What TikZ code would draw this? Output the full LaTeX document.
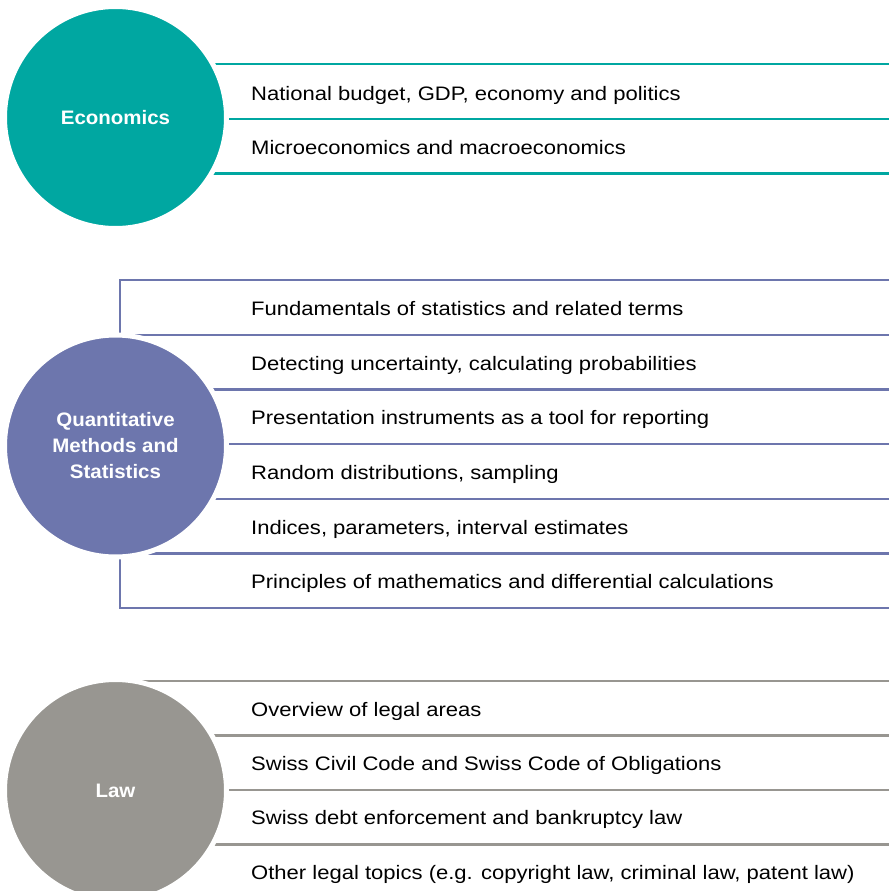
\documentclass[tikz,border=0pt]{standalone}
\usepackage{fontspec}
\setmainfont{Liberation Sans}[FakeStretch=1.13,BoldFeatures={FakeStretch=1.05}]
\usetikzlibrary{positioning}

\definecolor{econ}{HTML}{00A7A1}
\definecolor{quant}{HTML}{6D76AD}
\definecolor{lawc}{HTML}{989691}

\tikzset{
	topic/.style={circle,fill=#1,draw=white,line width=5pt,minimum size=222pt,inner sep=0pt,
		text=white,font=\fontsize{19.5}{26}\selectfont\bfseries,align=center},
	rule/.style={draw=#1,line width=2.5pt},
	item/.style={anchor=base west,inner sep=0pt,font=\fontsize{19.5}{24}\selectfont}
}

\begin{document}
\begin{tikzpicture}[x=1pt,y=-1pt]
	\useasboundingbox (0,0) rectangle (889,891);

	\draw[rule=econ]	(120,64) -- (889,64);
	\draw[rule=econ]	(120,119) -- (889,119);
	\draw[rule=econ]	(120,173.5) -- (889,173.5);

	\draw[rule=quant]	(889,280) -- (120,280) -- (120,608) -- (889,608);
	\draw[rule=quant]	(120,335) -- (889,335);
	\draw[rule=quant]	(120,389.5) -- (889,389.5);
	\draw[rule=quant]	(120,444) -- (889,444);
	\draw[rule=quant]	(120,499) -- (889,499);
	\draw[rule=quant]	(120,553.5) -- (889,553.5);

	\draw[rule=lawc]	(120,681) -- (889,681);
	\draw[rule=lawc]	(120,735.5) -- (889,735.5);
	\draw[rule=lawc]	(120,790) -- (889,790);
	\draw[rule=lawc]	(120,844.5) -- (889,844.5);

	\node[topic=econ]	(econ)	at (115.5,117.5)	{Economics};
	\node[topic=quant]	(quant)	at (115.5,446)		{Quantitative\\Methods and\\Statistics};
	\node[topic=lawc]	(law)	at (115.5,790.5)	{Law};

	\node[item] (e1) at (251,100)	{National budget, GDP, economy and politics};
	\node[item] (e2) at (251,154)	{Microeconomics and macroeconomics};

	\node[item] (q1) at (251,315.5)	{Fundamentals of statistics and related terms};
	\node[item] (q2) at (251,370)	{Detecting uncertainty, calculating probabilities};
	\node[item] (q3) at (251,424.5)	{Presentation instruments as a tool for reporting};
	\node[item] (q4) at (251,479.5)	{Random distributions, sampling};
	\node[item] (q5) at (251,534)	{Indices, parameters, interval estimates};
	\node[item] (q6) at (251,588.5)	{Principles of mathematics and differential calculations};

	\node[item] (l1) at (251,716)	{Overview of legal areas};
	\node[item] (l2) at (251,770.5)	{Swiss Civil Code and Swiss Code of Obligations};
	\node[item] (l3) at (251,824.5)	{Swiss debt enforcement and bankruptcy law};
	\node[item] (l4) at (251,879)	{Other legal topics (e.g. copyright law, criminal law, patent law)};
\end{tikzpicture}
\end{document}
